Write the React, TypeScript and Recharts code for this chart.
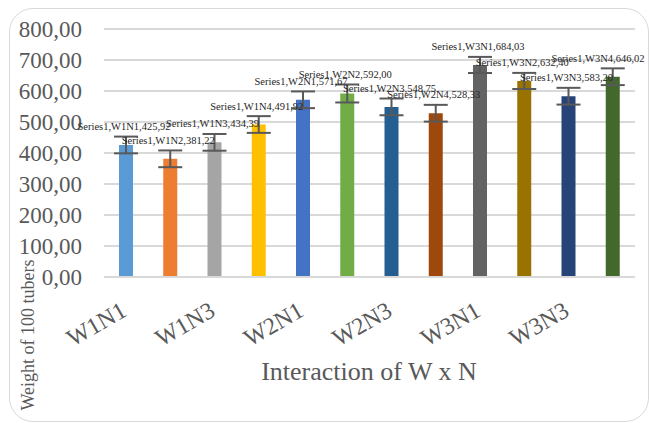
import React from "react";
import { Bar, BarChart, CartesianGrid, Cell, ErrorBar, LabelList, XAxis, YAxis } from "recharts";

const categories = ["W1N1", "W1N2", "W1N3", "W1N4", "W2N1", "W2N2", "W2N3", "W2N4", "W3N1", "W3N2", "W3N3", "W3N4"];
const weights = [425.92, 381.22, 434.39, 491.92, 571.67, 592.0, 548.75, 528.33, 684.03, 632.4, 583.2, 646.02];
const errors = [27, 27, 27, 27, 27, 29, 27, 27, 26, 26, 27, 27];
const yTicks = [0, 100, 200, 300, 400, 500, 600, 700, 800];

const palette = ["#5B9BD5", "#ED7D31", "#A5A5A5", "#FFC000", "#4472C4", "#70AD47", "#255E91", "#9E480E", "#636363", "#997300", "#264478", "#43682B"];

const serif = "'Liberation Serif', 'Times New Roman', serif";
const gray = "#595959";

const data = categories.map((name, i) => ({ name, value: weights[i], err: errors[i] }));

const fmt = (v: number) => v.toFixed(2).replace(".", ",");

function XTick({ x, y, payload }: any) {
  const tx = x + 2;
  const ty = y + 38;
  return (
    <text
      x={tx}
      y={ty}
      textAnchor="end"
      transform={`rotate(-30 ${tx} ${ty})`}
      fill={gray}
      style={{ fontFamily: serif, fontSize: 24 }}
    >
      {payload.value}
    </text>
  );
}

function ValueLabel({ x, y, width, value, index }: any) {
  // keep the label inside the chart frame, like the original
  const cx = Math.min(x + width / 2 - 2, 598);
  return (
    <text x={cx} y={y - 15} textAnchor="middle" fill="#262626" style={{ fontFamily: serif, fontSize: 10.5 }}>
      {`Series1,${categories[index]},${fmt(value)}`}
    </text>
  );
}

export default function App() {
  return (
    <div style={{ position: "absolute", left: 0, top: 0, width: 649, height: 423, background: "#fff", fontFamily: serif }}>
      <div
        style={{
          position: "absolute",
          left: 9,
          top: 8,
          width: 640,
          height: 414,
          border: "1.5px solid #d9d9d9",
          borderRadius: 24,
          boxSizing: "border-box",
        }}
      />
      <BarChart
        width={649}
        height={423}
        data={data}
        margin={{ top: 29, right: 14, bottom: 86, left: 24 }}
        style={{ position: "absolute", left: 0, top: 0, fontFamily: serif }}
      >
        <CartesianGrid vertical={false} stroke="#d9d9d9" strokeWidth={2} />
        <XAxis
          dataKey="name"
          interval={1}
          height={60}
          tickLine={false}
          tickSize={0}
          tickMargin={0}
          axisLine={{ stroke: "#d9d9d9", strokeWidth: 2 }}
          tick={<XTick />}
          label={{
            content: () => (
              <text x={369} y={380} textAnchor="middle" fill={gray} style={{ fontFamily: serif, fontSize: 26 }}>
                Interaction of W x N
              </text>
            ),
          }}
        />
        <YAxis
          width={80}
          domain={[0, 800]}
          ticks={yTicks}
          axisLine={false}
          tickLine={false}
          tickSize={0}
          tickMargin={22}
          tickFormatter={fmt}
          tick={{ fill: gray, style: { fontFamily: serif, fontSize: 23 } }}
          label={{
            content: () => (
              <text
                x={28}
                y={335}
                dy="0.35em"
                textAnchor="middle"
                transform="rotate(-90 28 335)"
                fill={gray}
                style={{ fontFamily: serif, fontSize: 18 }}
              >
                Weight of 100 tubers
              </text>
            ),
          }}
        />
        <Bar dataKey="value" barSize={14} isAnimationActive={false}>
          {data.map((d, i) => (
            <Cell key={d.name} fill={palette[i]} />
          ))}
          <ErrorBar dataKey="err" width={12} stroke={gray} strokeWidth={2} direction="y" />
          <LabelList dataKey="value" content={<ValueLabel />} />
        </Bar>
      </BarChart>
    </div>
  );
}
